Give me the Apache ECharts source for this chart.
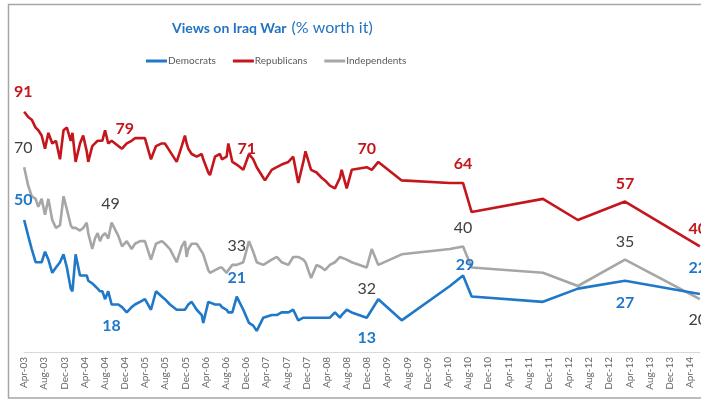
<!DOCTYPE html>
<html>
<head>
<meta charset="utf-8">
<script src="https://cdn.jsdelivr.net/npm/echarts@6/dist/echarts.min.js"></script>
<style>
  html, body { margin: 0; padding: 0; background: #fff; }
  #chart { width: 701px; height: 400px; }
</style>
</head>
<body>
<div id="chart"></div>
<script>
// Survey dates (field dates) and share saying the war was worth it, by party
const surveyDates = [
  '2003-04-02','2003-04-26','2003-05-17','2003-06-10','2003-06-26','2003-07-16','2003-08-06','2003-08-26',
  '2003-09-19','2003-10-11','2003-11-05','2003-11-26','2003-12-16','2004-01-09','2004-01-19','2004-02-08',
  '2004-03-04','2004-03-23','2004-04-14','2004-04-23','2004-05-17','2004-06-03','2004-06-19','2004-07-03',
  '2004-07-17','2004-08-03','2004-08-22','2004-09-12','2004-10-22','2004-11-14','2004-12-12','2005-01-11',
  '2005-02-01','2005-03-01','2005-03-30','2005-05-06','2005-06-06','2005-07-10','2005-07-29','2005-08-29',
  '2005-10-09','2005-11-09','2005-11-28','2005-12-08','2005-12-18','2006-01-08','2006-02-08','2006-03-08',
  '2006-03-17','2006-04-17','2006-04-27','2006-05-27','2006-06-26','2006-07-08','2006-08-06','2006-08-16',
  '2006-09-10','2006-10-06','2006-11-15','2006-12-19','2007-01-14','2007-02-05','2007-03-14','2007-03-24',
  '2007-05-04','2007-06-04','2007-07-03','2007-08-13','2007-09-12','2007-10-12','2007-11-12','2007-11-25',
  '2007-12-28','2008-02-01','2008-03-01','2008-03-21','2008-04-20','2008-05-20','2008-06-20','2008-06-30',
  '2008-07-30','2008-08-30','2008-11-29','2008-12-29','2009-02-08','2009-06-27','2010-04-14','2010-07-02',
  '2010-08-23','2011-10-27','2012-05-25','2013-03-05','2014-05-30'
];

const democrats = [
  50,44,39,34,34,34,38,35,30,32,34,37,32,24,23,37,
  29,29,29,27,26,25,24,23,23,20,23,18,18,17,15,17,
  18,19,20,16,23,21,20,18,16,16,16,17,18,19,16,14,
  11,19,19,18,18,17,16,15,15,21,16,11,10,8,13,13,
  14,14,15,15,16,12,13,13,13,13,13,13,13,15,13,14,
  16,15,13,16,20,12,25,29,21,19,24,27,22
];

const republicans = [
  91,89,88,85,84,82,77,83,79,80,73,84,85,80,83,72,
  79,82,76,72,78,79,80,80,80,84,79,80,78,77,79,80,
  81,81,81,73,78,79,79,76,72,78,82,79,77,75,74,75,
  73,68,67,74,75,73,74,79,72,71,69,75,73,70,66,65,
  69,70,71,72,74,64,72,76,69,68,66,65,63,62,66,69,
  62,69,70,69,72,65,64,64,53,58,50,57,40
];

const independents = [
  70,63,59,58,55,58,52,58,50,47,48,59,54,48,47,47,
  46,47,49,45,39,43,45,42,44,45,43,49,44,40,42,39,
  41,42,42,35,41,42,41,39,34,40,42,36,39,41,41,38,
  37,31,30,31,32,32,30,31,33,33,34,42,38,34,33,33,
  35,36,34,33,36,36,35,34,28,33,32,31,33,34,36,36,
  35,34,32,39,33,37,39,40,32,30,25,35,20
];

// Points that carry a value label
const labelledPoints = [0, 27, 30, 57, 82, 87, 91, 92];

// Axis tick labels, one every four months starting Apr-03
const tickLabels = [
  'Apr-03','Aug-03','Dec-03','Apr-04','Aug-04','Dec-04','Apr-05','Aug-05','Dec-05',
  'Apr-06','Aug-06','Dec-06','Apr-07','Aug-07','Dec-07','Apr-08','Aug-08','Dec-08',
  'Apr-09','Aug-09','Dec-09','Apr-10','Aug-10','Dec-10','Apr-11','Aug-11','Dec-11',
  'Apr-12','Aug-12','Dec-12','Apr-13','Aug-13','Dec-13','Apr-14'
];

const seriesNames = ['Democrats', 'Republicans', 'Independents'];

// ---- presentation ----
const lineColors = { Democrats: '#1f78c8', Republicans: '#c4161c', Independents: '#a6a6a6' };
const labelColors = { Democrats: '#1f78c8', Republicans: '#c4161c', Independents: '#404040' };
const labelWeights = { Democrats: 'bold', Republicans: 'bold', Independents: 'normal' };
// label centre offset from its point, in pixels
const labelOffsets = {
  Republicans: { 0: [-1, -20], 30: [-2, -15], 57: [10, -16], 82: [0, -18], 87: [0, -19], 91: [0, -18], 92: [-2, -18] },
  Independents: { 0: [-1, -19], 27: [-1, -19], 57: [0, -19], 82: [0, 21], 87: [0, -19], 91: [0, -18], 92: [-2, 21] },
  Democrats: { 0: [-1, -20], 27: [0, 21], 57: [0, -19], 82: [0, 20], 87: [2, -11], 91: [0, 22], 92: [-2, -26] }
};
const FONT = 'Lato, "Liberation Sans", sans-serif';

// months elapsed since April 2003
function monthIndex(d) {
  const [y, m, dd] = d.split('-').map(Number);
  return (y - 2003) * 12 + (m - 4) + (dd - 1) / 30;
}

const valuesByName = { Democrats: democrats, Republicans: republicans, Independents: independents };

function buildSeries(name) {
  const vals = valuesByName[name];
  const data = surveyDates.map((d, i) => {
    const point = [monthIndex(d), vals[i]];
    const off = labelOffsets[name][i];
    if (labelledPoints.includes(i) && off) {
      return {
        value: point,
        symbol: 'circle',
        symbolSize: 1,
        itemStyle: { color: 'rgba(0,0,0,0)' },
        label: {
          show: true,
          position: 'inside',
          offset: off,
          formatter: String(vals[i]),
          color: labelColors[name],
          fontWeight: labelWeights[name],
          fontSize: 16,
          fontFamily: FONT
        }
      };
    }
    return { value: point };
  });
  return {
    name,
    type: 'line',
    data,
    symbol: 'none',
    showSymbol: true,
    lineStyle: { color: lineColors[name], width: 2.6 },
    itemStyle: { color: lineColors[name] },
    emphasis: { disabled: true },
    z: name === 'Independents' ? 2 : 3
  };
}

const chart = echarts.init(document.getElementById('chart'), null, { renderer: 'canvas' });

chart.setOption({
  animation: false,
  backgroundColor: '#ffffff',
  title: {
    text: '{b|Views on Iraq War} {n|(% worth it)}',
    left: 172,
    top: 19,
    padding: 0,
    textStyle: {
      rich: {
        b: { fontFamily: FONT, fontSize: 14, fontWeight: 'bold', color: '#2474c0' },
        n: { fontFamily: FONT, fontSize: 16, fontWeight: 'normal', color: '#2474c0' }
      }
    }
  },
  legend: {
    data: seriesNames,
    left: 146,
    top: 56,
    padding: 0,
    icon: 'rect',
    itemWidth: 21,
    itemHeight: 3,
    itemGap: 17,
    textStyle: { fontFamily: FONT, fontSize: 10, color: '#595959', padding: [0, 0, 0, -4] }
  },
  grid: { left: 24, right: 1, top: 88, bottom: 48, containLabel: false },
  xAxis: {
    type: 'value',
    min: 0,
    max: 134,
    interval: 4,
    splitLine: { show: false },
    axisTick: { show: false },
    axisLine: { show: true, lineStyle: { color: '#d9d9d9', width: 1 } },
    axisLabel: {
      rotate: 90,
      margin: 5,
      fontSize: 10,
      fontFamily: FONT,
      color: '#666666',
      showMaxLabel: false,
      formatter: v => (v % 4 === 0 && tickLabels[v / 4]) ? tickLabels[v / 4] : ''
    }
  },
  yAxis: {
    type: 'value',
    min: 0,
    max: 100,
    show: false,
    splitLine: { show: false }
  },
  graphic: [{
    type: 'rect',
    silent: true,
    z: 100,
    shape: { x: 8.5, y: 4.5, width: 720, height: 393.5 },
    style: { fill: 'none', stroke: '#a6a6a6', lineWidth: 1.5 }
  }],
  series: seriesNames.map(buildSeries)
});
</script>
</body>
</html>
